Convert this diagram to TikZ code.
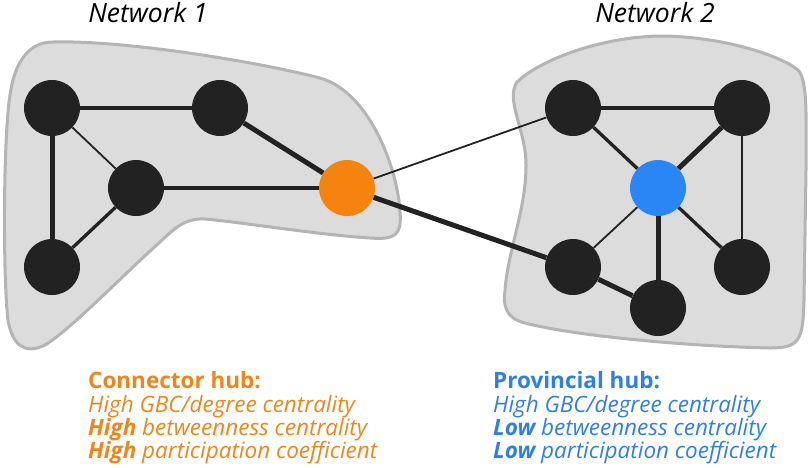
\documentclass[tikz,border=0pt]{standalone}
\usepackage{fontspec}
\setmainfont{Open Sans}
\definecolor{blobfill}{HTML}{DCDCDC}
\definecolor{blobline}{HTML}{B4B4B4}
\definecolor{nodeblack}{HTML}{222222}
\definecolor{hubor}{HTML}{F7830F}
\definecolor{hubbl}{HTML}{2B86F5}
\definecolor{txtor}{HTML}{F08519}
\definecolor{txtbl}{HTML}{2F7FE8}
\tikzset{
  blob/.style={fill=blobfill, draw=blobline, line width=3pt},
  vert/.style={circle, fill=nodeblack, minimum size=56pt, inner sep=0pt},
  orhub/.style={vert, fill=hubor},
  blhub/.style={vert, fill=hubbl},
  thinedge/.style={draw=nodeblack, line width=1.8pt},
  medge/.style={draw=nodeblack, line width=3.3pt},
  thkedge/.style={draw=nodeblack, line width=5pt},
  title/.style={font=\fontsize{26.5}{30}\selectfont\itshape, anchor=base, inner sep=0pt},
  info/.style={font=\fontsize{22.5}{26}\selectfont, anchor=base west, inner sep=0pt},
}
\begin{document}
\begin{tikzpicture}[x=1pt,y=-1pt]
\useasboundingbox (0,0) rectangle (810,467);
% blobs
\path[blob] (53,42) .. controls (120,40) and (250,60) .. (320,78)
  .. controls (370,92) and (398,170) .. (400,212)
  .. controls (402,235) and (395,240) .. (370,238)
  .. controls (320,235) and (240,222) .. (205,219)
  .. controls (185,218) and (175,228) .. (160,242)
  .. controls (120,278) and (70,330) .. (45,345)
  .. controls (25,355) and (12,345) .. (8,320)
  .. controls (3,280) and (3,140) .. (10,95)
  .. controls (15,60) and (30,42) .. (53,42) -- cycle;
\path[blob] (517,82) .. controls (540,60) and (600,37) .. (660,36)
  .. controls (720,36) and (780,55) .. (798,70)
  .. controls (808,80) and (806,120) .. (806,170)
  -- (804,300)
  .. controls (803,340) and (800,348) .. (770,348)
  .. controls (680,346) and (570,335) .. (525,323)
  .. controls (505,318) and (503,305) .. (505,290)
  .. controls (508,250) and (526,210) .. (526,165)
  .. controls (526,130) and (505,100) .. (517,82) -- cycle;
% titles
\node[title] (t1) at (148,22) {Network 1};
\node[title] (t2) at (655,22) {Network 2};
% nodes
\node[vert] (a) at (52,108) {};
\node[vert] (b) at (220,108) {};
\node[vert] (c) at (136,188) {};
\node[vert] (d) at (52,267) {};
\node[orhub] (o) at (347,188) {};
\node[vert] (e) at (573,108) {};
\node[vert] (f) at (742,108) {};
\node[blhub] (u) at (658,188) {};
\node[vert] (g) at (573,267) {};
\node[vert] (h) at (742,267) {};
\node[vert] (i) at (658,308) {};
% edges
\path[medge] (a) -- (b);
\path[thkedge] (a) -- (d);
\path[thinedge] (a) -- (c);
\path[medge] (c) -- (d);
\path[medge] (c) -- (o);
\path[thkedge] (b) -- (o);
\path[thinedge] (o) -- (e);
\path[thkedge] (o) -- (g);
\path[medge] (e) -- (f);
\path[medge] (e) -- (u);
\path[thkedge] (f) -- (u);
\path[thinedge] (f) -- (h);
\path[thinedge] (u) -- (g);
\path[thkedge] (u) -- (i);
\path[medge] (u) -- (h);
\path[thkedge] (g) -- (i);
% text
\node[info, text=txtor] (l1) at (88,388) {\bfseries Connector hub:};
\node[info, text=txtor] (l2) at (88,412) {\itshape High GBC/degree centrality};
\node[info, text=txtor] (l3) at (88,435) {\bfseries\itshape High\mdseries\ betweenness centrality};
\node[info, text=txtor] (l4) at (88,458) {\bfseries\itshape High\mdseries\ participation coefficient};
\node[info, text=txtbl] (r1) at (493,388) {\bfseries Provincial hub:};
\node[info, text=txtbl] (r2) at (493,412) {\itshape High GBC/degree centrality};
\node[info, text=txtbl] (r3) at (493,435) {\bfseries\itshape Low\mdseries\ betweenness centrality};
\node[info, text=txtbl] (r4) at (493,458) {\bfseries\itshape Low\mdseries\ participation coefficient};
\end{tikzpicture}
\end{document}
